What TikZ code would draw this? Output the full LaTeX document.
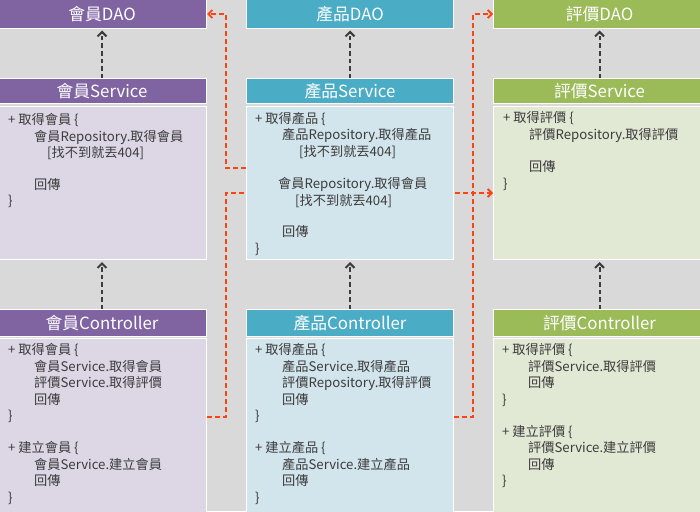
\documentclass[tikz,border=0pt]{standalone}
\usepackage{fontspec}
\newfontfamily\cjk{Noto Sans CJK TC}
\usetikzlibrary{arrows.meta,calc}
\definecolor{bgc}{RGB}{217,217,217}
\definecolor{purH}{RGB}{128,100,162}
\definecolor{purB}{RGB}{220,214,229}
\definecolor{bluH}{RGB}{75,172,198}
\definecolor{bluB}{RGB}{210,228,236}
\definecolor{grnH}{RGB}{155,187,89}
\definecolor{grnB}{RGB}{225,233,213}
\definecolor{txt}{RGB}{60,60,60}
\definecolor{redc}{RGB}{250,68,20}
\definecolor{darkc}{RGB}{60,60,60}
\pgfdeclarelayer{bglayer}
\pgfsetlayers{bglayer,main}
\tikzset{
  box/.style={draw=white, line width=1pt, inner sep=0pt, anchor=north west},
  header/.style={box, text=white, font=\cjk\fontsize{16.8}{18}\selectfont},
  btext/.style={anchor=base west, inner sep=0pt, align=left, text=txt, font=\cjk\fontsize{13.2}{16.5}\selectfont},
  redline/.style={draw=redc, line width=1.8pt, dash pattern=on 5pt off 3pt, -{Straight Barb[length=4pt,width=8pt]}},
  darr/.style={draw=darkc, line width=2pt, dash pattern=on 4.5pt off 3pt, -{Straight Barb[length=4.5pt,width=9pt]}, shorten >=1.5pt},
}
\begin{document}
\begin{tikzpicture}[x=1pt,y=-1pt]
\useasboundingbox (0,0) rectangle (700,511);
% ---- left column (會員)
\node[header, fill=purH, minimum width=209, minimum height=29] (md) at (-3,-1) {會員DAO};
\node[header, fill=purH, minimum width=209, minimum height=25] (ms) at (-3,78) {會員Service};
\node[box, fill=purB, minimum width=209, minimum height=153.5] (msb) at (-3,105.5) {};
\node[header, fill=purH, minimum width=209, minimum height=27] (mc) at (-3,309) {會員Controller};
\node[box, fill=purB, minimum width=209, minimum height=180] (mcb) at (-3,338) {};
% ---- middle column (產品)
\node[header, fill=bluH, minimum width=207, minimum height=29] (pd) at (246,-1) {產品DAO};
\node[header, fill=bluH, minimum width=207, minimum height=25] (ps) at (246,78) {產品Service};
\node[box, fill=bluB, minimum width=207, minimum height=153.5] (psb) at (246,105.5) {};
\node[header, fill=bluH, minimum width=207, minimum height=27] (pc) at (246,309) {產品Controller};
\node[box, fill=bluB, minimum width=207, minimum height=180] (pcb) at (246,338) {};
% ---- right column (評價)
\node[header, fill=grnH, minimum width=212, minimum height=29] (rd) at (493,-1) {評價DAO};
\node[header, fill=grnH, minimum width=212, minimum height=25] (rs) at (493,78) {評價Service};
\node[box, fill=grnB, minimum width=212, minimum height=153.5] (rsb) at (493,105.5) {};
\node[header, fill=grnH, minimum width=212, minimum height=27] (rc) at (493,309) {評價Controller};
\node[box, fill=grnB, minimum width=212, minimum height=180] (rcb) at (493,338) {};

% ---- body texts (anchored at the baseline of their last line)
\node[btext] (mst) at (8,205.5) {+ 取得會員 \{\\
\hspace*{26pt}會員Repository.取得會員\\
\hspace*{39pt}[找不到就丟404]\\[15pt]
\hspace*{26pt}回傳\\
\}};
\node[btext] (pst) at (255,253) {+ 取得產品 \{\\
\hspace*{27pt}產品Repository.取得產品\\
\hspace*{44pt}[找不到就丟404]\\[16pt]
\hspace*{23pt}會員Repository.取得會員\\
\hspace*{40pt}[找不到就丟404]\\[15pt]
\hspace*{27pt}回傳\\
\}};
\node[btext] (rst) at (503,188) {+ 取得評價 \{\\
\hspace*{26pt}評價Repository.取得評價\\[16pt]
\hspace*{26pt}回傳\\
\}};
\node[btext] (mct) at (8,502) {+ 取得會員 \{\\
\hspace*{26pt}會員Service.取得會員\\
\hspace*{26pt}評價Service.取得評價\\
\hspace*{26pt}回傳\\
\}\\[15.5pt]
+ 建立會員 \{\\
\hspace*{26pt}會員Service.建立會員\\
\hspace*{26pt}回傳\\
\}};
\node[btext] (pct) at (255,502) {+ 取得產品 \{\\
\hspace*{27pt}產品Service.取得產品\\
\hspace*{27pt}評價Repository.取得評價\\
\hspace*{27pt}回傳\\
\}\\[15.5pt]
+ 建立產品 \{\\
\hspace*{27pt}產品Service.建立產品\\
\hspace*{27pt}回傳\\
\}};
\node[btext] (rct) at (502,485.5) {+ 取得評價 \{\\
\hspace*{26pt}評價Service.取得評價\\
\hspace*{26pt}回傳\\
\}\\[15.5pt]
+ 建立評價 \{\\
\hspace*{26pt}評價Service.建立評價\\
\hspace*{26pt}回傳\\
\}};

% ---- background and hidden connector
\begin{pgfonlayer}{bglayer}
\fill[bgc] (0,0) rectangle (700,511);
\draw[redline] (mcb.east |- 0,417) -| (226,193) -- (rsb.west |- 0,193);
\end{pgfonlayer}

% ---- dark dependency arrows
\draw[darr] (ms.north) -- (md.south);
\draw[darr] (ps.north) -- (pd.south);
\draw[darr] (rs.north) -- (rd.south);
\draw[darr, shorten >=2pt] (mc.north) -- (msb.south);
\draw[darr, shorten >=2pt] (pc.north) -- (psb.south);
\draw[darr, shorten >=2pt] (rc.north) -- (rsb.south);

% ---- red cross dependencies
\draw[redline] (psb.west |- 0,168) -- (226,168) |- (md.east);
\draw[redline] (pcb.east |- 0,417) -- (473,417) |- (rd.west);
\end{tikzpicture}
\end{document}
